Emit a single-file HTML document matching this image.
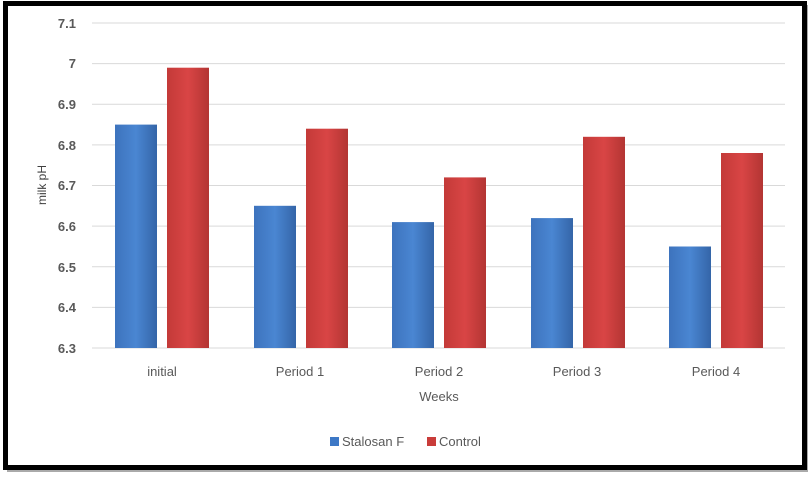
<!DOCTYPE html>
<html><head><style>
body{margin:0;background:#fff;width:812px;height:477px;overflow:hidden;font-family:"Liberation Sans",sans-serif;}
</style></head><body>
<svg width="812" height="477" xmlns="http://www.w3.org/2000/svg">
<defs>
<linearGradient id="b" x1="0" y1="0" x2="1" y2="0"><stop offset="0" stop-color="#3d73bd"/><stop offset="0.5" stop-color="#4a86d2"/><stop offset="1" stop-color="#3465a8"/></linearGradient>
<linearGradient id="r" x1="0" y1="0" x2="1" y2="0"><stop offset="0" stop-color="#c33a38"/><stop offset="0.5" stop-color="#d94545"/><stop offset="1" stop-color="#b33533"/></linearGradient>
</defs>
<rect x="7" y="5" width="801" height="467" fill="#555" opacity="0.5"/>
<rect x="5.5" y="3.5" width="799" height="464" fill="#fff" stroke="#000" stroke-width="5"/>
<g stroke="#d9d9d9" stroke-width="1">
<line x1="92" x2="785" y1="23" y2="23"/><line x1="92" x2="785" y1="63.6" y2="63.6"/><line x1="92" x2="785" y1="104.3" y2="104.3"/><line x1="92" x2="785" y1="144.9" y2="144.9"/><line x1="92" x2="785" y1="185.5" y2="185.5"/><line x1="92" x2="785" y1="226.1" y2="226.1"/><line x1="92" x2="785" y1="266.8" y2="266.8"/><line x1="92" x2="785" y1="307.4" y2="307.4"/><line x1="92" x2="785" y1="348" y2="348"/>
</g>
<g font-size="13" fill="#595959" text-anchor="end" font-weight="bold">
<text x="76" y="28">7.1</text><text x="76" y="68">7</text><text x="76" y="109">6.9</text><text x="76" y="150">6.8</text><text x="76" y="190">6.7</text><text x="76" y="231">6.6</text><text x="76" y="272">6.5</text><text x="76" y="312">6.4</text><text x="76" y="353">6.3</text>
</g>
<text transform="translate(46,185) rotate(-90)" font-size="12" fill="#404040" text-anchor="middle">milk pH</text>
<g>
<rect x="115" y="124.6" width="42" height="223.4" fill="url(#b)"/><rect x="167" y="67.7" width="42" height="280.3" fill="url(#r)"/>
<rect x="254" y="205.8" width="42" height="142.2" fill="url(#b)"/><rect x="306" y="128.7" width="42" height="219.3" fill="url(#r)"/>
<rect x="392" y="222.1" width="42" height="125.9" fill="url(#b)"/><rect x="444" y="177.4" width="42" height="170.6" fill="url(#r)"/>
<rect x="531" y="218.1" width="42" height="129.9" fill="url(#b)"/><rect x="583" y="136.8" width="42" height="211.2" fill="url(#r)"/>
<rect x="669" y="246.5" width="42" height="101.5" fill="url(#b)"/><rect x="721" y="153.0" width="42" height="195" fill="url(#r)"/>
</g>
<g font-size="13" fill="#595959" text-anchor="middle">
<text x="162" y="376">initial</text><text x="300" y="376">Period 1</text><text x="439" y="376">Period 2</text><text x="577" y="376">Period 3</text><text x="716" y="376">Period 4</text>
<text x="439" y="401">Weeks</text>
</g>
<rect x="330" y="437" width="9" height="9" fill="#3d78c6"/>
<text x="342" y="446" font-size="13" fill="#595959">Stalosan F</text>
<rect x="427" y="437" width="9" height="9" fill="#c93c3a"/>
<text x="439" y="446" font-size="13" fill="#595959">Control</text>
</svg>
</body></html>
